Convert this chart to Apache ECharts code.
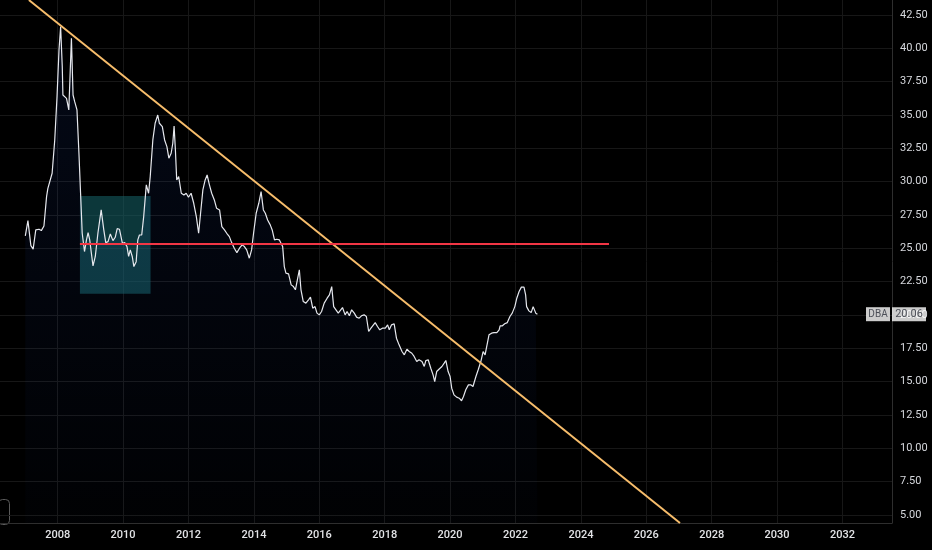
<!DOCTYPE html>
<html>
<head>
<meta charset="utf-8">
<title>DBA</title>
<script src="https://cdn.jsdelivr.net/npm/echarts@6/dist/echarts.min.js"></script>
<style>
  html, body { margin: 0; padding: 0; background: #000; }
  #main { width: 932px; height: 550px; }
</style>
</head>
<body>
<div id="main"></div>
<script>
// price history (decimal year / close)
var years = [
  2007.01, 2007.09, 2007.18, 2007.25, 2007.33, 2007.43, 2007.50, 2007.58, 2007.66, 2007.70,
  2007.76, 2007.83, 2007.91, 2007.98, 2008.04, 2008.09, 2008.14, 2008.16, 2008.22, 2008.27,
  2008.34, 2008.37, 2008.42, 2008.47, 2008.52, 2008.59, 2008.65, 2008.70, 2008.75, 2008.82,
  2008.88, 2008.93, 2008.98, 2009.03, 2009.08, 2009.15, 2009.23, 2009.33, 2009.41, 2009.47,
  2009.54, 2009.61, 2009.69, 2009.76, 2009.82, 2009.89, 2009.98, 2010.05, 2010.12, 2010.17,
  2010.22, 2010.28, 2010.33, 2010.40, 2010.45, 2010.50, 2010.57, 2010.63, 2010.71, 2010.78,
  2010.83, 2010.91, 2010.98, 2011.06, 2011.11, 2011.20, 2011.27, 2011.34, 2011.40, 2011.47,
  2011.52, 2011.56, 2011.60, 2011.64, 2011.70, 2011.78, 2011.86, 2011.93, 2012.00, 2012.08,
  2012.16, 2012.24, 2012.31, 2012.37, 2012.44, 2012.51, 2012.57, 2012.64, 2012.71, 2012.79,
  2012.86, 2012.95, 2013.02, 2013.10, 2013.17, 2013.25, 2013.32, 2013.40, 2013.48, 2013.56,
  2013.64, 2013.71, 2013.78, 2013.86, 2013.93, 2013.99, 2014.07, 2014.15, 2014.22, 2014.29,
  2014.35, 2014.42, 2014.50, 2014.56, 2014.63, 2014.70, 2014.78, 2014.88, 2014.93, 2014.98,
  2015.06, 2015.14, 2015.21, 2015.27, 2015.34, 2015.39, 2015.44, 2015.51, 2015.59, 2015.67,
  2015.73, 2015.80, 2015.87, 2015.93, 2016.00, 2016.07, 2016.15, 2016.24, 2016.31, 2016.38,
  2016.44, 2016.51, 2016.58, 2016.64, 2016.71, 2016.79, 2016.85, 2016.92, 2016.99, 2017.07,
  2017.14, 2017.22, 2017.29, 2017.37, 2017.44, 2017.51, 2017.58, 2017.63, 2017.71, 2017.78,
  2017.85, 2017.93, 2018.02, 2018.09, 2018.14, 2018.21, 2018.29, 2018.36, 2018.44, 2018.53,
  2018.60, 2018.68, 2018.75, 2018.83, 2018.90, 2018.98, 2019.05, 2019.14, 2019.21, 2019.26,
  2019.33, 2019.41, 2019.48, 2019.53, 2019.59, 2019.66, 2019.75, 2019.82, 2019.87, 2019.94,
  2020.00, 2020.05, 2020.12, 2020.20, 2020.28, 2020.35, 2020.41, 2020.48, 2020.56, 2020.63,
  2020.70, 2020.79, 2020.86, 2020.94, 2021.01, 2021.07, 2021.12, 2021.19, 2021.27, 2021.34,
  2021.43, 2021.50, 2021.53, 2021.60, 2021.67, 2021.75, 2021.83, 2021.90, 2021.98, 2022.04,
  2022.11, 2022.18, 2022.26, 2022.31, 2022.34, 2022.41, 2022.48, 2022.54, 2022.62, 2022.67
];
var prices = [
  25.93, 27.08, 25.20, 24.94, 26.38, 26.43, 26.33, 26.68, 28.88, 29.50,
  29.38, 30.63, 33.13, 36.38, 39.88, 41.62, 38.63, 36.50, 36.63, 36.25,
  35.38, 37.38, 40.75, 36.50, 36.00, 35.38, 32.13, 29.13, 26.13, 24.76,
  25.63, 26.18, 25.63, 24.64, 23.68, 24.39, 26.13, 27.88, 26.38, 25.43,
  25.50, 26.08, 25.58, 25.83, 26.48, 26.43, 25.38, 25.43, 25.13, 24.39,
  24.88, 24.39, 23.63, 24.00, 25.63, 26.00, 26.00, 27.38, 29.76, 29.13,
  30.38, 33.13, 34.38, 35.00, 34.38, 34.13, 33.13, 32.63, 31.76, 32.13,
  32.88, 34.18, 32.38, 30.13, 30.38, 29.13, 29.00, 29.13, 28.83, 29.13,
  28.38, 27.38, 26.13, 27.63, 29.38, 30.13, 30.50, 29.76, 29.13, 28.63,
  28.00, 27.88, 26.63, 26.38, 26.13, 25.88, 25.43, 25.01, 24.68, 25.01,
  25.26, 25.13, 24.88, 24.26, 24.88, 26.13, 27.63, 28.38, 29.26, 27.88,
  27.63, 27.13, 26.76, 26.38, 25.63, 25.68, 25.63, 25.13, 23.63, 23.14,
  23.08, 22.26, 22.13, 21.89, 22.76, 23.39, 21.89, 21.01, 20.89, 21.14,
  21.34, 20.51, 20.63, 20.14, 20.01, 20.26, 20.89, 21.26, 21.51, 22.13,
  20.63, 20.39, 20.14, 20.14, 20.56, 20.01, 20.26, 19.94, 20.39, 20.14,
  19.84, 19.76, 19.94, 20.01, 19.89, 18.76, 19.01, 19.14, 19.43, 19.14,
  18.89, 19.01, 19.01, 19.26, 18.89, 19.26, 19.34, 18.26, 17.76, 17.26,
  17.01, 17.44, 17.26, 17.13, 16.89, 16.51, 16.64, 16.51, 16.14, 16.59,
  16.64, 16.01, 15.51, 15.01, 15.76, 15.93, 16.14, 16.39, 16.59, 15.76,
  15.39, 14.51, 14.01, 13.84, 13.76, 13.57, 13.89, 14.39, 14.76, 14.76,
  14.64, 15.39, 15.89, 16.51, 17.26, 17.01, 17.13, 18.51, 18.64, 18.68,
  18.68, 18.89, 19.19, 19.19, 19.34, 19.43, 19.89, 20.14, 20.63, 21.26,
  21.76, 22.09, 22.09, 21.51, 20.63, 20.31, 20.18, 20.63, 20.14, 20.06
];

// axis ticks
var xTicks = [2008, 2010, 2012, 2014, 2016, 2018, 2020, 2022, 2024, 2026, 2028, 2030, 2032];
var yTicks = [5, 7.5, 10, 12.5, 15, 17.5, 20, 22.5, 25, 27.5, 30, 32.5, 35, 37.5, 40, 42.5];

// drawings
var trendYears = [2007.12, 2027.03];
var trendValues = [43.62, 4.4];
var levelYears = [2008.68, 2024.86];
var levelValue = 25.32;
var boxYears = [2008.68, 2010.84];
var boxValues = [21.6, 28.92];

var ticker = 'DBA';
var lastPrice = 20.06;

var xMin = 2006.236, xMax = 2033.514;
var yMin = 4.4, yMax = 43.625;

var pricePoints = [];
for (var i = 0; i < years.length; i++) {
  pricePoints.push([years[i], prices[i]]);
}
var trendPoints = [];
for (var j = 0; j < trendYears.length; j++) {
  trendPoints.push([trendYears[j], trendValues[j]]);
}

var chart = echarts.init(document.getElementById('main'));

var gridColor = '#171717';

var option = {
  backgroundColor: '#000000',
  animation: false,
  grid: { left: 0, right: 40, top: 0, bottom: 27 },
  xAxis: {
    type: 'value',
    min: xMin,
    max: xMax,
    axisLine: { show: true, lineStyle: { color: '#2e2e2e', width: 1 } },
    axisTick: { show: false, customValues: xTicks },
    axisLabel: {
      customValues: xTicks,
      color: '#e2e3e6',
      fontSize: 11,
      fontWeight: 500,
      fontFamily: 'Roboto',
      margin: 7,
      formatter: function (v) { return String(Math.round(v)); }
    },
    splitLine: { show: true, lineStyle: { color: gridColor, width: 1 } }
  },
  yAxis: {
    type: 'value',
    position: 'right',
    min: yMin,
    max: yMax,
    axisLine: { show: true, lineStyle: { color: '#2e2e2e', width: 1 } },
    axisTick: { show: false, customValues: yTicks },
    axisLabel: {
      customValues: yTicks,
      color: '#d6d8dd',
      fontSize: 11,
      fontFamily: 'Roboto',
      margin: 8,
      formatter: function (v) { return v.toFixed(2); }
    },
    splitLine: { show: true, lineStyle: { color: gridColor, width: 1 } }
  },
  graphic: [{
    type: 'rect',
    left: -4,
    top: 497,
    shape: { width: 11, height: 25, r: 4 },
    style: { fill: 'none', stroke: '#5a5a5a', lineWidth: 1 }
  }],
  series: [
    {
      name: ticker,
      type: 'line',
      data: pricePoints,
      symbol: 'none',
      lineStyle: { color: '#e6e8ee', width: 1.2 },
      areaStyle: {
        origin: yMin,
        color: new echarts.graphic.LinearGradient(0, 0, 0, 1, [
          { offset: 0, color: 'rgba(41, 98, 255, 0.13)' },
          { offset: 1, color: 'rgba(41, 98, 255, 0.02)' }
        ])
      },
      markArea: {
        silent: true,
        itemStyle: { color: 'rgba(22, 100, 106, 0.55)' },
        data: [[
          { coord: [boxYears[0], boxValues[0]] },
          { coord: [boxYears[1], boxValues[1]] }
        ]]
      },
      markLine: {
        silent: true,
        symbol: 'none',
        label: { show: false },
        lineStyle: { color: '#f23645', width: 2, type: 'solid' },
        data: [[
          { coord: [levelYears[0], levelValue] },
          { coord: [levelYears[1], levelValue] }
        ]]
      },
      z: 3
    },
    {
      name: 'trend',
      type: 'line',
      data: trendPoints,
      symbol: 'none',
      lineStyle: { color: '#f7bd6b', width: 2 },
      z: 4
    },
    {
      name: 'last',
      type: 'scatter',
      data: [[xMax, lastPrice]],
      symbolSize: 0,
      clip: false,
      label: {
        show: true,
        position: 'right',
        distance: 0,
        offset: [-26, 0],
        formatter: function () { return '{n|' + ticker + '}{g|}{p|' + lastPrice.toFixed(2) + '}'; },
        rich: {
          n: { backgroundColor: '#ffffff', color: '#2a2e39', fontSize: 10, fontFamily: 'Roboto', width: 24, height: 14, align: 'center', lineHeight: 14 },
          g: { width: 2, height: 14 },
          p: { backgroundColor: '#ffffff', color: '#2a2e39', fontSize: 11, fontFamily: 'Roboto', width: 34, height: 14, align: 'center', lineHeight: 14 }
        }
      },
      z: 6
    }
  ]
};

chart.setOption(option);
</script>
</body>
</html>
